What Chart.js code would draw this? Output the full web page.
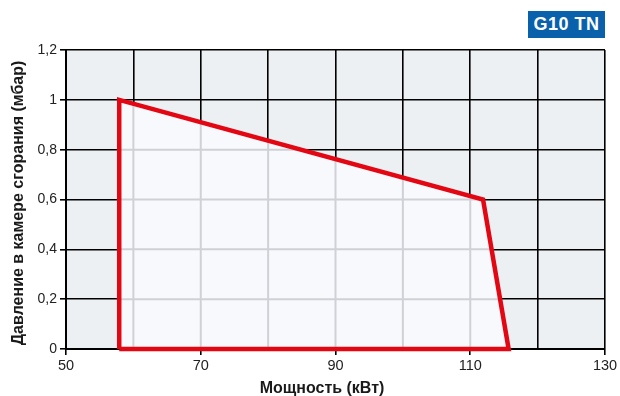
<!DOCTYPE html>
<html><head><meta charset="utf-8">
<script src="https://cdn.jsdelivr.net/npm/chart.js@4/dist/chart.umd.min.js"></script>
<style>
html,body{margin:0;padding:0;background:#fff;}
#wrap{position:relative;width:620px;height:396px;}
#badge{position:absolute;left:528px;top:11px;width:77px;height:27px;background:#0a61ab;color:#fff;font:bold 18px "Liberation Sans",Arial,sans-serif;line-height:27px;text-align:center;letter-spacing:0.5px;}
</style></head><body>
<div id="wrap"><canvas id="c" width="620" height="396"></canvas><div id="badge">G10 TN</div></div>
<script>
const badgeText = "G10 TN";
const xTitle = "Мощность (кВт)";
const yTitle = "Давление в камере сгорания (мбар)";
const powerKW = [57.9, 57.9, 111.9, 115.7, 57.9];
const pressureMbar = [0, 1.0, 0.6, 0, 0];
const xLabeled = [50, 70, 90, 110, 130];

document.getElementById('badge').textContent = badgeText;
const pts = powerKW.map((x, i) => ({x, y: pressureMbar[i]}));
const font = "'Liberation Sans', Arial, sans-serif";

const bgPlugin = {
  id: 'bg',
  beforeDraw(chart) {
    const {ctx, chartArea: a} = chart;
    ctx.save();
    ctx.fillStyle = '#edf0f3';
    ctx.fillRect(a.left, a.top, a.right - a.left, a.bottom - a.top);
    ctx.restore();
  },
  afterDatasetDraw(chart, args) {
    if (args.index !== 1) return;
    const meta = chart.getDatasetMeta(1);
    const {ctx, chartArea: a, scales} = chart;
    ctx.save();
    ctx.beginPath();
    meta.data.forEach((p, i) => i ? ctx.lineTo(p.x, p.y) : ctx.moveTo(p.x, p.y));
    ctx.closePath();
    ctx.clip();
    ctx.strokeStyle = '#cfd1d6';
    ctx.lineWidth = 2;
    ctx.beginPath();
    scales.x.ticks.forEach(t => { const px = scales.x.getPixelForValue(t.value); ctx.moveTo(px, a.top); ctx.lineTo(px, a.bottom); });
    scales.y.ticks.forEach(t => { const py = scales.y.getPixelForValue(t.value); ctx.moveTo(a.left, py); ctx.lineTo(a.right, py); });
    ctx.stroke();
    ctx.restore();
  },
  afterDraw(chart) {
    const {ctx} = chart;
    ctx.save();
    ctx.fillStyle = '#1a1a1a';
    ctx.font = "bold 16px " + font;
    ctx.textAlign = 'center';
    ctx.textBaseline = 'middle';
    ctx.fillText(xTitle, 322, 389);
    ctx.translate(18.5, 203);
    ctx.rotate(-Math.PI / 2);
    ctx.fillText(yTitle, 0, 0);
    ctx.restore();
  }
};

new Chart(document.getElementById('c'), {
  type: 'scatter',
  data: {
    datasets: [
      { data: pts, showLine: true, borderColor: '#e30613', borderWidth: 4.5, pointRadius: 0, fill: false, order: 1, borderJoinStyle: 'miter', clip: false },
      { data: pts, showLine: true, borderWidth: 0, borderColor: 'rgba(0,0,0,0)', backgroundColor: '#f8f9fc', pointRadius: 0, fill: 'shape', order: 2 }
    ]
  },
  options: {
    responsive: false,
    animation: false,
    layout: { padding: { top: 50, right: 15, left: 0, bottom: 0 } },
    plugins: { legend: { display: false }, tooltip: { enabled: false } },
    scales: {
      x: {
        type: 'linear', min: 50, max: 130,
        ticks: { stepSize: 10, color: '#222', font: { family: font, size: 14.5 }, padding: 2,
          callback: v => xLabeled.includes(v) ? String(v) : '' , autoSkip: false, maxRotation: 0 },
        grid: { color: '#000', lineWidth: 1.6, tickLength: 6,
          tickColor: c => (c.tick && xLabeled.includes(c.tick.value)) ? '#000' : 'rgba(0,0,0,0)' },
        border: { color: '#000', width: 2 },
        afterFit: s => { s.height = 47; }
      },
      y: {
        min: 0, max: 1.2,
        ticks: { stepSize: 0.2, color: '#222', font: { family: font, size: 14 }, padding: 3,
          callback: v => String(Math.round(v * 10) / 10).replace('.', ',') },
        grid: { color: '#000', lineWidth: 1.6, tickLength: 6, tickColor: '#000' },
        border: { color: '#000', width: 2 },
        afterFit: s => { s.width = 66; }
      }
    }
  },
  plugins: [bgPlugin]
});
</script>
</body></html>
